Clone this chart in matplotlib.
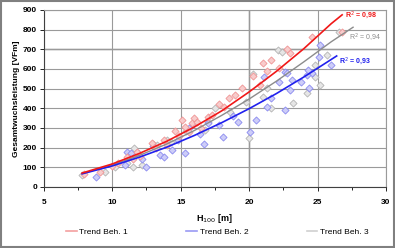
import matplotlib
matplotlib.use("Agg")

import matplotlib.pyplot as plt
from matplotlib.lines import Line2D
from matplotlib.patches import Rectangle

# -----------------------
# DATA
# -----------------------
red_x = [7.9, 9.1, 10.4, 11.1, 11.8, 12.9, 13.8, 14.6, 15.3, 15.8, 15.1, 16.0, 17.0,
         17.3, 18.2, 18.5, 19.5, 20.3, 21.0, 21.6, 21.3, 22.2, 23.0, 24.6, 26.8, 12.0,
         13.2, 14.0, 16.5, 17.8, 19.0, 10.0, 11.5, 14.9, 16.2, 20.8, 22.8, 15.6]
red_y = [66, 76, 122, 152, 178, 223, 239, 284, 305, 325, 340, 350, 355,
         365, 406, 452, 503, 563, 629, 645, 589, 604, 680, 761, 787, 160,
         200, 215, 300, 420, 470, 105, 140, 260, 330, 520, 700, 280]

blue_x = [8.8, 10.9, 11.1, 11.4, 11.9, 12.5, 13.5, 13.8, 14.4, 15.3, 15.9, 17.0,
          17.8, 19.2, 16.7, 18.1, 20.1, 20.5, 21.3, 21.1, 21.6, 22.6, 22.8, 23.1,
          22.2, 24.6, 24.4, 25.2, 26.0, 22.6, 23.0, 24.2, 23.8, 24.3, 25.1, 13.0,
          14.8, 16.4, 18.8, 12.2, 15.6]
blue_y = [51, 112, 178, 172, 172, 102, 162, 152, 188, 172, 320, 325,
          315, 330, 218, 254, 279, 340, 406, 558, 452, 584, 579, 545,
          533, 579, 503, 720, 620, 390, 492, 569, 533, 594, 660, 210,
          240, 270, 360, 140, 300]

gray_x = [7.8, 9.5, 11.1, 11.6, 11.5, 12.2, 13.0, 13.3, 14.3, 15.4, 17.5, 20.3,
          22.1, 21.3, 21.0, 21.6, 22.4, 24.8, 23.2, 24.2, 26.6, 25.7, 24.8, 25.2,
          18.6, 16.8, 19.8, 10.2, 14.0, 17.0, 20.0]
gray_y = [61, 76, 122, 198, 102, 112, 218, 213, 228, 284, 400, 574,
          695, 503, 457, 401, 685, 620, 426, 477, 787, 670, 558, 518,
          380, 290, 430, 100, 240, 330, 250]

# trend curves (Excel trend lines)
trend_red_x = [7.8, 10, 12, 14, 16, 18, 20, 22, 24, 26, 26.8]
trend_red_y = [71, 117, 171, 233, 305, 387, 483, 588, 703, 830, 875]
trend_blue_x = [7.8, 10, 12, 14, 16, 18, 20, 22, 24, 26, 26.4]
trend_blue_y = [67, 107, 152, 203, 262, 327, 398, 475, 559, 648, 666]
trend_gray_x = [7.8, 10, 12, 14, 16, 18, 20, 22, 24, 26, 27.6]
trend_gray_y = [68, 112, 161, 219, 287, 364, 447, 538, 636, 738, 812]

legend_labels = ["Trend Beh. 1", "Trend Beh. 2", "Trend Beh. 3"]
r2_labels = ["R$^2$ = 0,98", "R$^2$ = 0,94", "R$^2$ = 0,93"]

# -----------------------
# PLOT
# -----------------------
plt.rcParams['font.family'] = ['Liberation Sans', 'DejaVu Sans']

fig = plt.figure(figsize=(3.95, 2.48), dpi=100)
ax = fig.add_axes([0.111, 0.246, 0.866, 0.714])

# light grid like the Excel chart
ax.set_axisbelow(True)
ax.grid(True, color="#9a9a9a", linewidth=0.8)
ax.axvline(20, color="#303030", linewidth=0.9, zorder=0.5)
ax.axhline(700, color="#303030", linewidth=0.9, zorder=0.5)

ax.scatter(gray_x, gray_y, marker="D", s=13, facecolor="#e6e6e6", edgecolor="#b4b4b4",
           linewidth=0.6, zorder=2)
ax.scatter(blue_x, blue_y, marker="D", s=13, facecolor="#cdcdf8", edgecolor="#8a8af0",
           linewidth=0.6, zorder=2)
ax.scatter(red_x, red_y, marker="D", s=13, facecolor="#f8cccc", edgecolor="#f09494",
           linewidth=0.6, zorder=2)

ax.plot(trend_gray_x, trend_gray_y, color="#8c8c8c", linewidth=1.0, zorder=3)
ax.plot(trend_blue_x, trend_blue_y, color="#2020ee", linewidth=1.2, zorder=3)
ax.plot(trend_red_x, trend_red_y, color="#f01818", linewidth=1.2, zorder=3)

ax.text(27.0, 873, r2_labels[0], color="#f01818", fontsize=5, fontweight="bold", va="center")
ax.text(27.3, 756, r2_labels[1], color="#8c8c8c", fontsize=5, va="center")
ax.text(26.6, 640, r2_labels[2], color="#2020ee", fontsize=5, fontweight="bold", va="center")

ax.set_xlim(5, 30)
ax.set_ylim(0, 900)
ax.set_xticks(range(5, 31, 5))
ax.set_xticks([7.5, 12.5, 17.5, 22.5, 27.5], minor=True)
ax.set_yticks(range(0, 901, 100))
ax.tick_params(axis="both", which="major", labelsize=6, length=3, width=0.6, pad=2)
ax.tick_params(axis="x", which="major", pad=6)
ax.tick_params(axis="x", which="minor", length=2, width=0.6)
for lab in ax.get_xticklabels() + ax.get_yticklabels():
    lab.set_fontweight("bold")

for side in ["top", "right"]:
    ax.spines[side].set_color("#9a9a9a")
    ax.spines[side].set_linewidth(0.8)
for side in ["left", "bottom"]:
    ax.spines[side].set_color("#404040")
    ax.spines[side].set_linewidth(0.8)

ax.set_xlabel("H$_{100}$ [m]", fontsize=6.5, fontweight="bold", labelpad=4)
ax.set_ylabel("Gesamtwuchsleistung [VFm]", fontsize=6, fontweight="bold", labelpad=2)

handles = [Line2D([], [], color="#f4a0a0", linewidth=1.2),
           Line2D([], [], color="#9a9af4", linewidth=1.2),
           Line2D([], [], color="#d0d0d0", linewidth=1.2)]
fig.legend(handles, legend_labels, loc="center", bbox_to_anchor=(0.55, 0.065), ncol=3,
           frameon=False, fontsize=6, handlelength=1.3, handletextpad=0.3,
           columnspacing=7.0)

# grey frame round the whole chart
fig.patches.append(Rectangle((0.002, 0.004), 0.995, 0.992, transform=fig.transFigure,
                             fill=False, edgecolor="#808080", linewidth=1.5))

fig.savefig("out.png", dpi=100)
